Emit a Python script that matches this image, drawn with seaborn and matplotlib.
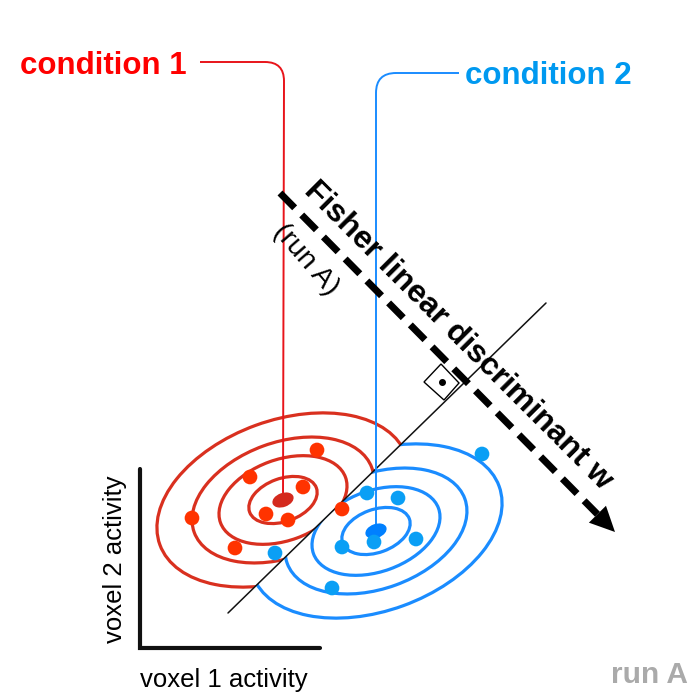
import numpy as np
import pandas as pd
import matplotlib
matplotlib.use("Agg")
import matplotlib.pyplot as plt
from matplotlib.patches import Ellipse, Polygon, PathPatch
from matplotlib.path import Path
import seaborn as sns

sns.set_theme(style="white")
plt.rcParams['font.family'] = ['Liberation Sans', 'DejaVu Sans']

# everything lives in picture pixels (x to the right, y downwards)
red_x = [317, 250, 303, 192, 266, 288, 342, 235]
red_y = [450, 477, 487, 518, 514, 520, 509, 548]
blue_x = [482, 367, 398, 275, 342, 374, 416, 332]
blue_y = [454, 493, 498, 553, 547, 542, 539, 588]
centre_red = (283, 500)
centre_blue = (376, 531)
ring_w = [71, 133, 189, 262]
ring_h = [43, 81, 115, 159]
ring_angle = -20

boundary_x = [228, 546]
boundary_y = [613, 303]
arrow_start = (280, 193)
arrow_tip = (615, 532)
square_x = [424, 441, 459, 444]
square_y = [382, 364, 383, 400]

RED_RING = '#d9301f'
RED_DOT = '#ff3300'
RED_TXT = '#ff0000'
BLUE_RING = '#1a8cff'
BLUE_DOT = '#0a9ff5'
BLUE_TXT = '#0099f0'

dots = pd.DataFrame({'x': red_x + blue_x, 'y': red_y + blue_y,
                     'cond': ['condition 1'] * len(red_x) + ['condition 2'] * len(blue_x)})

fig = plt.figure(figsize=(6.92, 6.99), dpi=100)
ax = fig.add_axes([0, 0, 1, 1])
ax.set_xlim(0, 692)
ax.set_ylim(699, 0)
ax.set_aspect('equal')
ax.axis('off')

# half planes either side of the decision boundary
p0 = np.array([boundary_x[0], boundary_y[0]], float)
d = np.array([boundary_x[1] - boundary_x[0], boundary_y[1] - boundary_y[0]], float)
far_a, far_b = p0 - 6 * d, p0 + 6 * d
clip_red = Polygon([far_a, far_b, (-4000, -4000)], transform=ax.transData)
clip_blue = Polygon([far_a, far_b, (4000, 4000)], transform=ax.transData)

for c, col, clip in [(centre_red, RED_RING, clip_red), (centre_blue, BLUE_RING, clip_blue)]:
    for w, h in zip(ring_w, ring_h):
        e = Ellipse(c, w, h, angle=ring_angle, fill=False, ec=col, lw=2.3, zorder=2)
        ax.add_patch(e)
        e.set_clip_path(clip)

ax.add_patch(Ellipse(centre_red, 22, 14, angle=ring_angle, fc='#d42a1e', ec='none', zorder=4))
ax.add_patch(Ellipse(centre_blue, 22, 14, angle=ring_angle, fc='#0080ff', ec='none', zorder=4))

# boundary
ax.plot(boundary_x, boundary_y, color='#111111', lw=1.1, zorder=3)

# leader lines to labels
codes = [Path.MOVETO, Path.LINETO, Path.CURVE3, Path.CURVE3, Path.LINETO]
red_lead = Path([(200, 62), (265, 62), (284, 62), (284, 81), centre_red], codes)
blue_lead = Path([(459, 73), (396, 73), (376, 73), (376, 93), centre_blue], codes)
ax.add_patch(PathPatch(red_lead, fill=False, ec='#e8141a', lw=1.4, zorder=3))
ax.add_patch(PathPatch(blue_lead, fill=False, ec=BLUE_RING, lw=1.4, zorder=3))

sns.scatterplot(data=dots, x='x', y='y', hue='cond', palette=[RED_DOT, BLUE_DOT],
                s=112, linewidth=0, legend=False, zorder=5, ax=ax)
ax.set_xlim(0, 692)
ax.set_ylim(699, 0)
ax.axis('off')

# Fisher direction: dashed shaft + solid head
s = np.array(arrow_start, float)
t = np.array(arrow_tip, float)
u = (t - s) / np.linalg.norm(t - s)
n = np.array([-u[1], u[0]])
base = t - 25 * u
ax.plot([s[0], base[0]], [s[1], base[1]], color='black', lw=5,
        linestyle=(0, (3.0, 1.45)), dash_capstyle='butt', zorder=6)
ax.add_patch(Polygon([t, base + 12 * n, base - 12 * n], closed=True, fc='black', ec='none', zorder=6))

# right angle marker
ax.add_patch(Polygon(list(zip(square_x, square_y)), closed=True, fill=False, ec='black', lw=1, zorder=3))
ax.plot([442], [382], 'o', color='black', ms=4, zorder=3)

# axes stub
ax.plot([140, 140, 320], [469, 648, 648], color='#111111', lw=3, solid_joinstyle='miter', zorder=3)

ax.text(20, 74, 'condition 1', color=RED_TXT, fontsize=22.5, fontweight='bold', va='baseline', ha='left')
ax.text(465, 84, 'condition 2', color=BLUE_TXT, fontsize=22.5, fontweight='bold', va='baseline', ha='left')
ax.text(458, 336, 'Fisher linear discriminant w', fontsize=23, fontweight='bold', rotation=-45,
        rotation_mode='anchor', ha='center', va='center', color='black')
ax.text(306, 260, '(run A)', fontsize=20.5, rotation=-49, rotation_mode='anchor',
        ha='center', va='center', color='black')
ax.text(115, 559, 'voxel 2 activity', fontsize=18.5, rotation=90, ha='center', va='center', color='black')
ax.text(224, 687, 'voxel 1 activity', fontsize=18.5, ha='center', va='baseline', color='black')
ax.text(688, 683, 'run A', fontsize=21.5, fontweight='bold', ha='right', va='baseline', color='#aaaaaa')

fig.savefig('out.png', dpi=100)
